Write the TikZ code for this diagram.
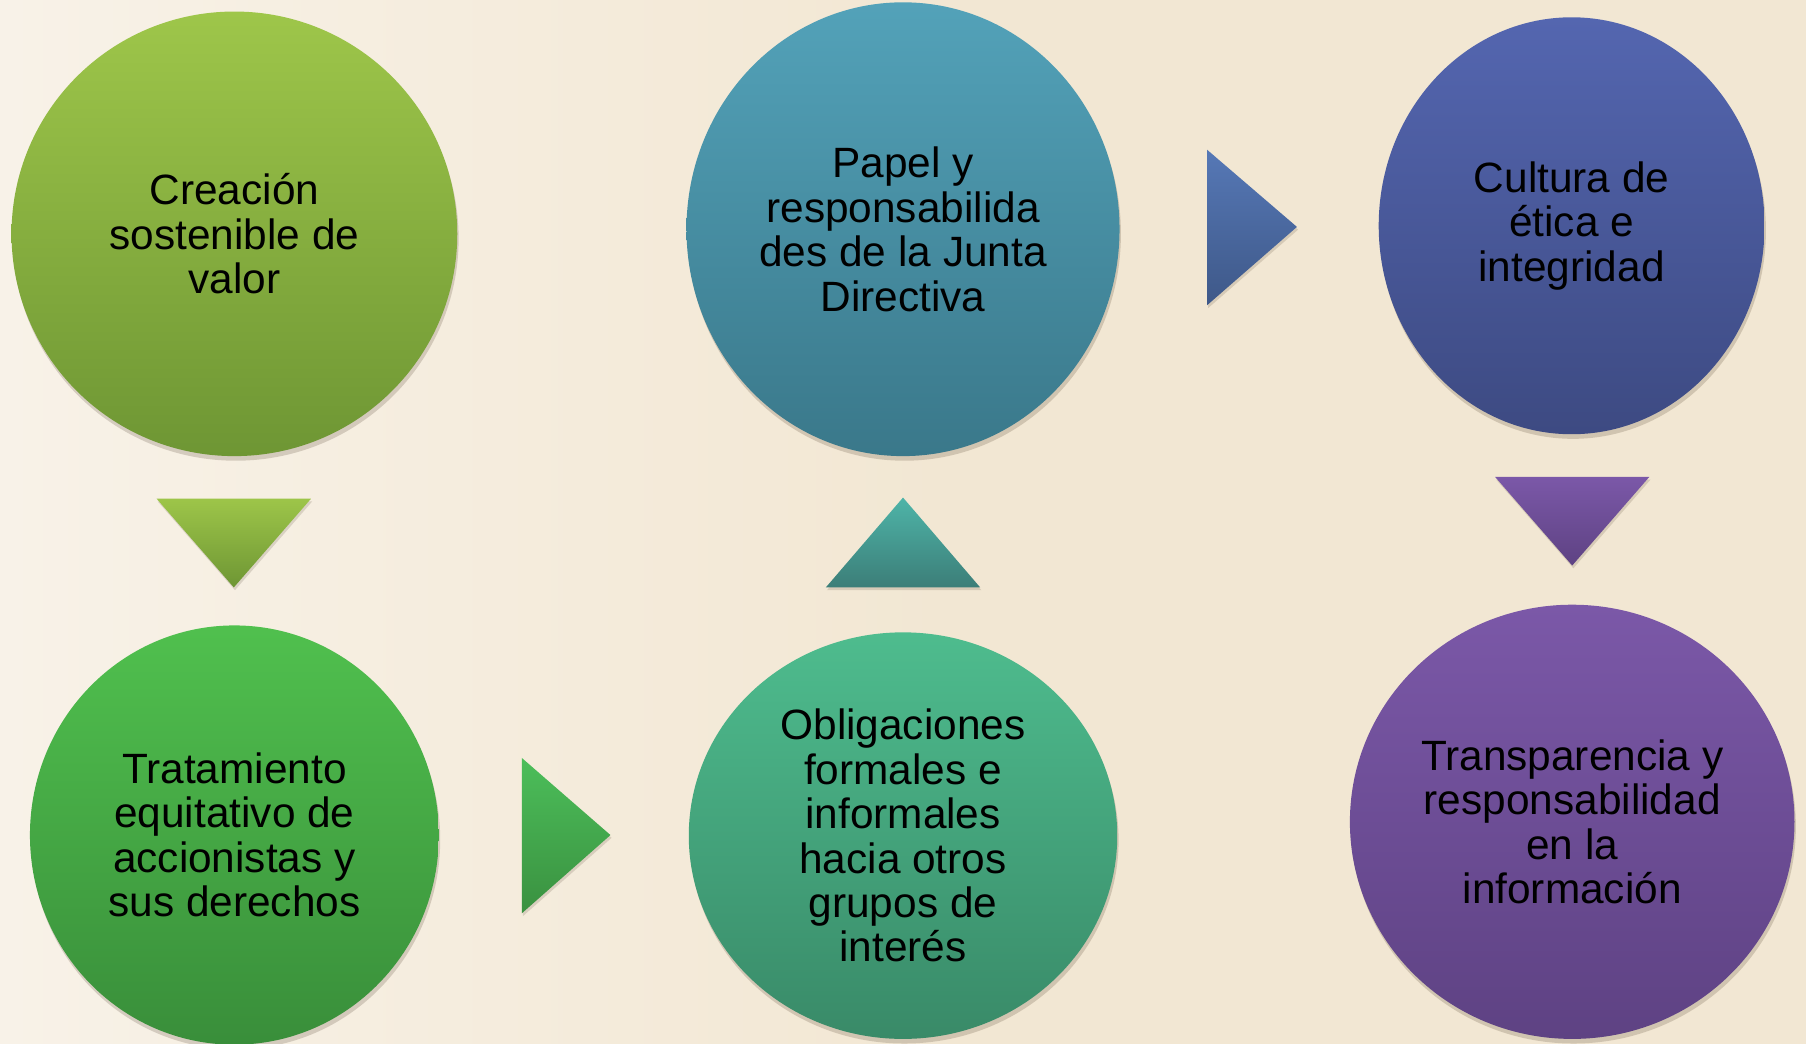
\documentclass[tikz,border=0pt]{standalone}
\usepackage{fontspec}
\setmainfont{Liberation Sans}
\usetikzlibrary{shapes.geometric,shadows}
\definecolor{bgmain}{RGB}{242,231,211}
\definecolor{bglight}{RGB}{248,242,232}
\definecolor{gAtop}{RGB}{158,198,74}
\definecolor{gAbot}{RGB}{110,150,52}
\definecolor{tBtop}{RGB}{83,162,185}
\definecolor{tBbot}{RGB}{58,120,138}
\definecolor{bCtop}{RGB}{84,102,176}
\definecolor{bCbot}{RGB}{61,74,130}
\definecolor{gDtop}{RGB}{80,192,78}
\definecolor{gDbot}{RGB}{57,142,58}
\definecolor{sEtop}{RGB}{78,188,142}
\definecolor{sEbot}{RGB}{57,138,104}
\definecolor{pFtop}{RGB}{123,88,168}
\definecolor{pFbot}{RGB}{94,66,131}
\definecolor{triAtop}{RGB}{157,197,73}
\definecolor{triAbot}{RGB}{110,150,52}
\definecolor{triBtop}{RGB}{78,180,168}
\definecolor{triBbot}{RGB}{60,126,120}
\definecolor{triCtop}{RGB}{86,120,182}
\definecolor{triCbot}{RGB}{62,88,136}
\definecolor{triDtop}{RGB}{123,88,168}
\definecolor{triDbot}{RGB}{94,66,131}
\definecolor{triEtop}{RGB}{76,190,90}
\definecolor{triEbot}{RGB}{58,145,64}
\begin{document}
\begin{tikzpicture}[x=0.5pt,y=-0.5pt,
  bubble/.style={ellipse, inner sep=0pt, align=center, text=black,
    font=\fontsize{18.4}{19.3}\selectfont,
    drop shadow={opacity=0.18, shadow xshift=0.6pt, shadow yshift=-2pt, fill=black!70!brown}},
  arrowtri/.style={drop shadow={opacity=0.15, shadow xshift=0.5pt, shadow yshift=-1.2pt, fill=black!70!brown}}]
\useasboundingbox (0,0) rectangle (1568,906);
\fill[bgmain] (0,0) rectangle (1568,906);
\shade[left color=bglight, right color=bgmain] (0,0) rectangle (820,906);

% bubbles
\node[bubble, minimum width=193.5pt, minimum height=193pt, top color=gAtop, bottom color=gAbot] (c1) at (203.5,203)
  {Creación\\sostenible de\\valor};
\node[bubble, minimum width=188pt, minimum height=197pt, top color=tBtop, bottom color=tBbot] (c2) at (784,199)
  {Papel y\\responsabilida\\des de la Junta\\Directiva};
\node[bubble, minimum width=167.5pt, minimum height=181pt, top color=bCtop, bottom color=bCbot] (c3) at (1364.5,196)
  {Cultura de\\ética e\\integridad};
\node[bubble, minimum width=177.5pt, minimum height=182pt, top color=gDtop, bottom color=gDbot] (c4) at (203.5,725)
  {Tratamiento\\equitativo de\\accionistas y\\sus derechos};
\node[bubble, minimum width=186pt, minimum height=176.5pt, top color=sEtop, bottom color=sEbot] (c5) at (784,725.5)
  {Obligaciones\\formales e\\informales\\hacia otros\\grupos de\\interés};
\node[bubble, minimum width=193pt, minimum height=188.5pt, top color=pFtop, bottom color=pFbot] (c6) at (1365,713.5)
  {Transparencia y\\responsabilidad\\en la\\información};

% arrow triangles
\shade[arrowtri, top color=triAtop, bottom color=triAbot] (136,433) -- (270,433) -- (203,510) -- cycle;
\shade[arrowtri, top color=triBtop, bottom color=triBbot] (784,432) -- (851,510) -- (717,510) -- cycle;
\shade[arrowtri, top color=triCtop, bottom color=triCbot] (1048,130) -- (1126,197) -- (1048,265) -- cycle;
\shade[arrowtri, top color=triDtop, bottom color=triDbot] (1298,414) -- (1432,414) -- (1365,491) -- cycle;
\shade[arrowtri, top color=triEtop, bottom color=triEbot] (453,658) -- (530,725) -- (453,793) -- cycle;
\end{tikzpicture}
\end{document}
